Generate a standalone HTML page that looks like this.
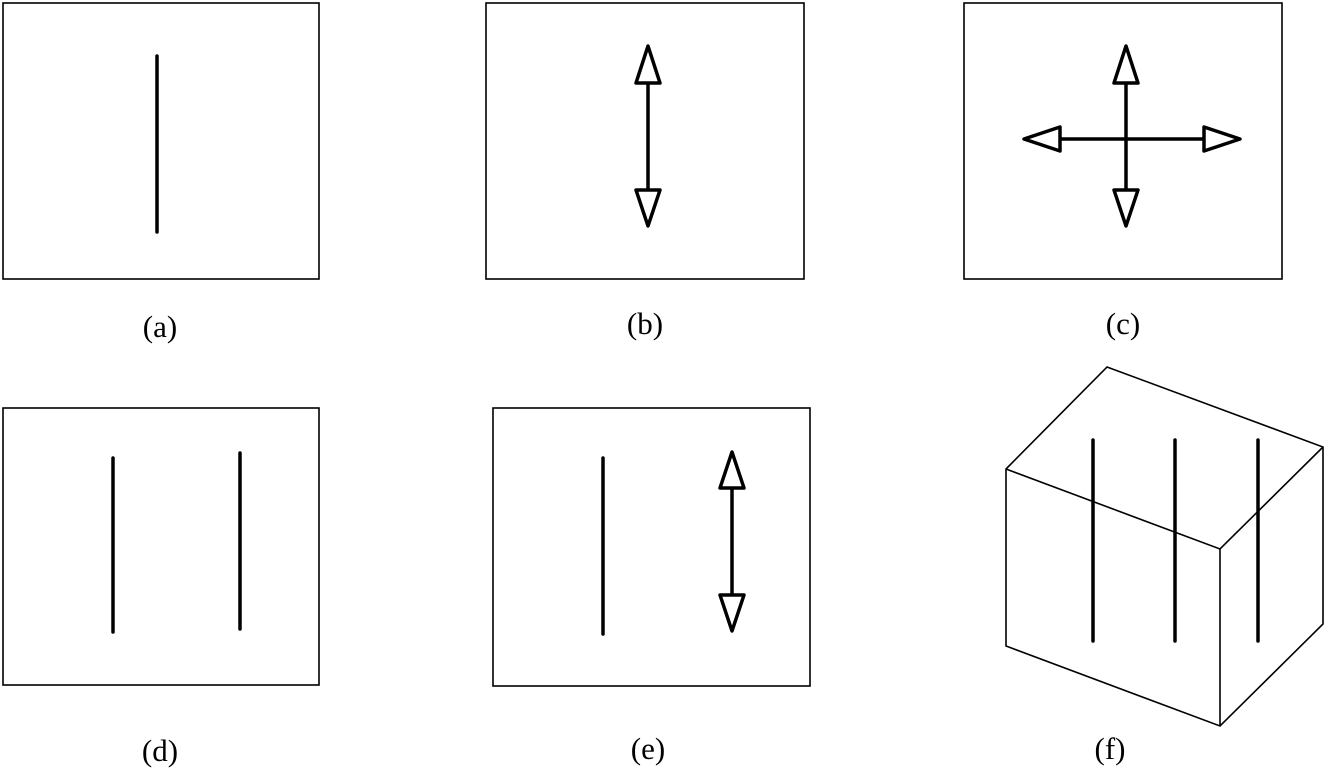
<!DOCTYPE html>
<html><head><style>body{margin:0;background:#fff}svg{display:block}</style></head><body>
<svg width="1325" height="776" xmlns="http://www.w3.org/2000/svg" font-family="Liberation Serif, serif" font-size="31">
<g fill="none" stroke="#000" stroke-width="1.6">
<rect x="3" y="3" width="316" height="276"/>
<rect x="486" y="3" width="318" height="276"/>
<rect x="964" y="3" width="318" height="276"/>
<rect x="3" y="408" width="316" height="277"/>
<rect x="493" y="408" width="317" height="278"/>
<polygon points="1107,367 1323,447 1323,624 1220,726 1006,646 1006,469"/>
<polyline points="1006,469 1220,549 1323,447"/>
<line x1="1220" y1="549" x2="1220" y2="726"/>
</g>
<g stroke="#000" stroke-width="3.5" stroke-linecap="round">
<line x1="157" y1="56" x2="157" y2="232"/>
<line x1="648" y1="83" x2="648" y2="190"/>
<line x1="1126" y1="83" x2="1126" y2="190"/>
<line x1="1060" y1="139" x2="1204" y2="139"/>
<line x1="113" y1="458" x2="113" y2="632"/>
<line x1="240" y1="453" x2="240" y2="629"/>
<line x1="603" y1="458" x2="603" y2="634"/>
<line x1="732" y1="488" x2="732" y2="595"/>
<line x1="1093" y1="440" x2="1093" y2="641"/>
<line x1="1175" y1="440" x2="1175" y2="641"/>
<line x1="1258" y1="440" x2="1258" y2="641"/>
</g>
<g fill="#fff" stroke="#000" stroke-width="3.5" stroke-linejoin="round">
<polygon points="648,46 636,83 660,83"/>
<polygon points="648,226 636,190 660,190"/>
<polygon points="1126,46 1114,83 1138,83"/>
<polygon points="1126,226 1114,190 1138,190"/>
<polygon points="1024,139 1060,127 1060,151"/>
<polygon points="1240,139 1204,127 1204,151"/>
<polygon points="732,452 720,488 744,488"/>
<polygon points="732,631 720,595 744,595"/>
</g>
<g text-anchor="middle">
<text x="160" y="337">(a)</text>
<text x="645" y="334">(b)</text>
<text x="1123" y="334">(c)</text>
<text x="160" y="761">(d)</text>
<text x="648" y="759">(e)</text>
<text x="1110" y="759">(f)</text>
</g>
</svg>
</body></html>
